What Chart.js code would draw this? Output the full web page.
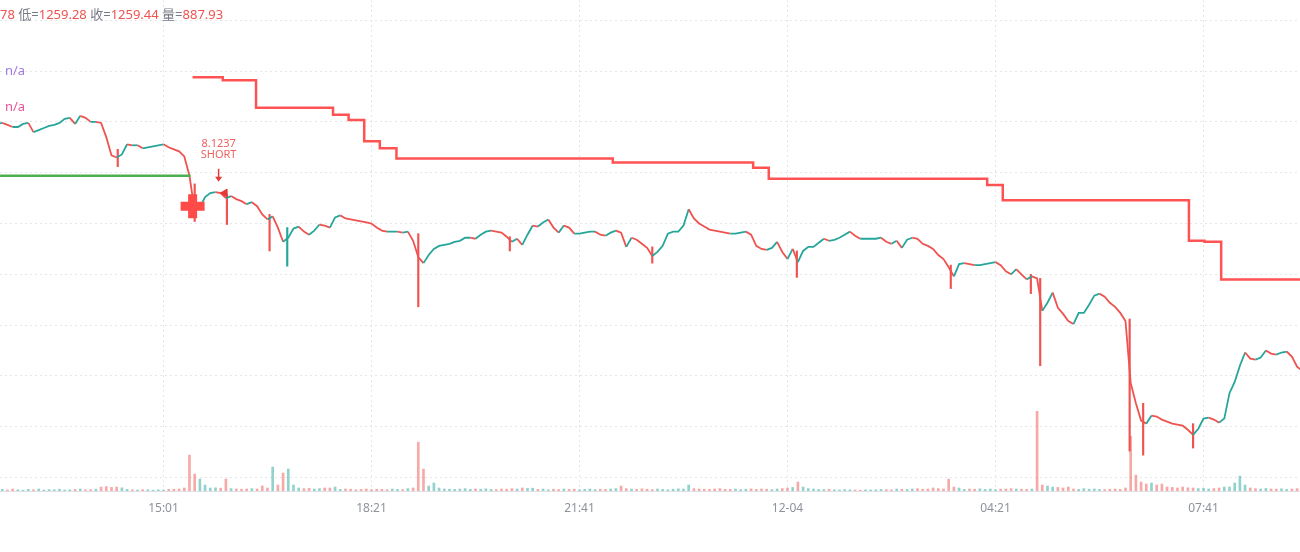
<!DOCTYPE html>
<html>
<head>
<meta charset="utf-8">
<script src="https://cdn.jsdelivr.net/npm/chart.js@4.4.0/dist/chart.umd.min.js"></script>
<style>
    body { margin: 0; background: #fff; }
    #wrap { position: relative; width: 1300px; height: 552px; overflow: hidden; }
    canvas { position: absolute; left: 0; top: 0; }
    .hdr { position: absolute; left: 0; top: 4px; font: 13px "Noto Sans", "Noto Sans CJK SC", sans-serif; white-space: nowrap; color: #ef5350; }
    .hdr .k { color: #787b86; }
    .na { position: absolute; left: 5px; font: 13px "Noto Sans", sans-serif; }
</style>
</head>
<body>
<div id="wrap">
    <canvas id="myChart" width="1300" height="552"></canvas>
    <div class="hdr">78 <span class="k">低=</span>1259.28 <span class="k">收=</span>1259.44 <span class="k">量=</span>887.93</div>
    <div class="na" style="top:61px;color:#a07ce0">n/a</div>
    <div class="na" style="top:97px;color:#e8559a">n/a</div>
</div>
<script>
// x values are minutes counted from the 15:01 tick
const tickMinutes = [0, 200, 400, 600, 800, 1000];
const tickLabels = ['15:01', '18:21', '21:41', '12-04', '04:21', '07:41'];
const priceGrid = [1250, 1255, 1260, 1265, 1270, 1275, 1280, 1285, 1290, 1295];

// 5 minute samples of the close, first one at minute -160
const barStart = -160;
const barStep = 5;
const closePrice = [
    1284.8, 1284.9, 1284.7, 1284.5, 1284.5, 1284.8, 1284.9, 1284.0, 1284.2, 1284.4, 1284.6, 1284.7,
    1284.9, 1285.3, 1285.4, 1284.8, 1285.6, 1285.4, 1285.0, 1285.0, 1284.9, 1283.5, 1281.7, 1281.5,
    1281.8, 1282.8, 1282.7, 1282.7, 1282.4, 1282.5, 1282.6, 1282.7, 1282.8, 1282.5, 1282.3, 1282.1,
    1281.6, 1279.7, 1276.2, 1276.6, 1277.6, 1278.0, 1278.1, 1278.0, 1277.5, 1277.7, 1277.4, 1277.2,
    1276.9, 1277.1, 1276.7, 1275.9, 1275.4, 1275.7, 1274.6, 1273.2, 1273.6, 1274.5, 1274.7, 1274.2,
    1273.9, 1274.3, 1274.9, 1274.8, 1274.6, 1275.6, 1275.8, 1275.5, 1275.4, 1275.3, 1275.2, 1275.1,
    1275.0, 1274.6, 1274.3, 1274.2, 1274.2, 1274.2, 1274.1, 1274.2, 1273.3, 1271.7, 1271.1, 1271.9,
    1272.5, 1272.8, 1272.9, 1273.0, 1273.2, 1273.3, 1273.6, 1273.6, 1273.5, 1273.9, 1274.2, 1274.3,
    1274.2, 1274.1, 1273.7, 1273.2, 1273.5, 1272.9, 1273.9, 1274.8, 1274.7, 1275.1, 1275.4, 1274.6,
    1274.1, 1274.8, 1274.6, 1274.0, 1274.0, 1274.1, 1274.2, 1274.2, 1273.9, 1273.8, 1274.1, 1274.3,
    1274.1, 1272.7, 1273.6, 1273.4, 1273.0, 1272.6, 1271.8, 1272.2, 1272.8, 1274.0, 1274.2, 1274.2,
    1274.8, 1276.4, 1275.5, 1275.0, 1274.7, 1274.4, 1274.3, 1274.2, 1274.1, 1274.0, 1274.0, 1274.1,
    1274.2, 1273.9, 1272.8, 1272.5, 1272.4, 1272.6, 1273.2, 1272.2, 1271.5, 1272.5, 1271.2, 1272.3,
    1272.7, 1272.7, 1273.1, 1273.5, 1273.3, 1273.4, 1273.6, 1273.9, 1274.2, 1273.8, 1273.5, 1273.5,
    1273.5, 1273.5, 1273.6, 1273.2, 1273.0, 1273.3, 1272.6, 1273.4, 1273.6, 1273.5, 1273.0, 1272.8,
    1272.5, 1271.9, 1271.5, 1270.7, 1269.8, 1271.0, 1271.1, 1271.0, 1270.9, 1270.9, 1271.0, 1271.1,
    1271.2, 1270.9, 1270.3, 1270.0, 1270.5, 1270.0, 1269.5, 1269.8, 1269.6, 1266.4, 1267.2, 1268.2,
    1266.7, 1266.1, 1265.4, 1265.1, 1266.2, 1266.2, 1267.0, 1267.9, 1268.1, 1267.8, 1267.2, 1266.8,
    1266.2, 1265.4, 1259.3, 1257.3, 1255.6, 1255.3, 1256.1, 1256.0, 1255.7, 1255.5, 1255.3, 1255.2,
    1255.1, 1254.7, 1254.2, 1254.8, 1255.8, 1255.9, 1255.7, 1255.4, 1255.8, 1258.3, 1259.4, 1261.0,
    1262.3, 1261.7, 1261.6, 1261.8, 1262.5, 1262.2, 1262.1, 1262.3, 1262.4, 1261.9, 1260.9, 1260.5
];
const volume = [
    60, 80, 50, 100, 60, 40, 80, 60, 100, 50, 70, 60, 90, 50, 60, 80, 100, 60, 70, 90,
    200, 220, 180, 200, 160,
    80, 60, 50, 70, 60, 40, 60, 50, 80, 90, 100,
    150, 1800, 850, 600, 300, 150, 160, 140,
    600, 120, 100, 90, 100, 120,
    100, 250, 150, 1200, 300, 900, 1100, 300,
    150, 120, 140, 100, 120, 150,
    150, 200,
    80, 100, 90, 60, 80, 100, 70, 90, 80, 60, 100, 80, 70, 120,
    150, 2450, 1100, 250, 400, 150,
    100, 90, 80, 100, 120, 80, 100, 90, 110, 80, 70, 100, 90, 120, 100,
    150, 130, 140,
    80, 100, 60, 90, 70, 100, 80, 90, 60, 80, 100, 70, 90, 80, 100, 120,
    250,
    120, 100, 80, 110, 90, 70, 100, 80, 60, 90, 110, 100,
    300,
    120, 100, 90, 80, 100, 120, 90, 80, 100, 70, 90, 110, 80, 100, 90, 70, 100, 120,
    150, 180, 450, 200,
    120, 100, 80, 70, 90, 60, 50, 70, 60, 50, 40, 60, 50, 60, 80, 70, 60, 100, 90, 80, 100, 120, 90, 100, 150, 120, 100,
    600,
    200, 150, 80, 100, 90, 110, 80, 100, 70, 90, 100, 120, 100, 90, 80, 100,
    4000,
    300, 250, 200, 180, 150, 200,
    100, 80, 120, 90, 100, 80, 70, 90, 100, 80, 150,
    2750, 800, 450, 350, 400, 300, 350,
    200, 180, 150, 200, 160, 150,
    120, 140, 100, 120, 150, 200, 200,
    400, 750, 300,
    150, 120, 100, 130, 100, 90, 110, 80, 100, 120, 90
];

// long wicks
const spikeT = [-44, 30, 61, 102, 119, 245, 333, 470, 609, 757, 834, 843, 929, 942, 990];
const spikeHigh = [1282.3, 1278.9, 1277.9, 1275.9, 1274.6, 1274.0, 1273.7, 1272.7, 1272.3, 1270.9, 1270.0, 1269.6, 1265.6, 1257.3, 1255.3];
const spikeLow = [1280.6, 1275.2, 1274.9, 1272.3, 1270.8, 1266.8, 1272.3, 1271.1, 1269.7, 1268.6, 1268.1, 1261.0, 1252.6, 1252.2, 1252.9];
const spikeUp = [false, false, false, false, true, false, false, false, false, false, false, false, false, false, false];

// trailing stop (red steps)
const stopT = [28, 57, 89, 163, 178, 193, 208, 224, 432, 567, 582, 792, 807, 986, 1001, 1017, 1096];
const stopPrice = [1289.4, 1289.1, 1286.4, 1285.7, 1285.2, 1283.1, 1282.4, 1281.4, 1281.0, 1280.5, 1279.4, 1278.8, 1277.3, 1273.3, 1273.2, 1269.5, 1269.5];

// green level
const levelT = [-160, 26];
const levelPrice = [1279.7, 1279.7];

// markers
const entryT = [28];
const entryPrice = [1276.7];
const flagT = [59];
const flagPrice = [1278.0];
const signalT = 53;
const signalPrice = 1279.1;
const signalText = ['8.1237', 'SHORT'];

const UP = '#26a69a';
const DOWN = '#ef5350';

const closePoints = closePrice.map((p, i) => ({ x: barStart + i * barStep, y: p }));
const volPoints = volume.map((v, i) => ({ x: barStart + i * barStep, y: v }));
const volColors = volume.map((v, i) => {
    const up = i === 0 || closePrice[i] >= closePrice[i - 1];
    return up ? 'rgba(38,166,154,0.5)' : 'rgba(239,83,80,0.5)';
});

const signalPlugin = {
    id: 'signal',
    afterDatasetsDraw(chart) {
        const { ctx, scales: { x, y } } = chart;
        const px = x.getPixelForValue(signalT);
        const py = y.getPixelForValue(signalPrice);
        ctx.save();
        ctx.strokeStyle = '#e53935';
        ctx.fillStyle = '#e53935';
        ctx.lineWidth = 1.5;
        ctx.beginPath();
        ctx.moveTo(px, py - 13);
        ctx.lineTo(px, py - 3);
        ctx.stroke();
        ctx.beginPath();
        ctx.moveTo(px - 3.5, py - 5);
        ctx.lineTo(px + 3.5, py - 5);
        ctx.lineTo(px, py);
        ctx.closePath();
        ctx.fill();
        ctx.fillStyle = '#f06262';
        ctx.font = '11px "Noto Sans", sans-serif';
        ctx.textAlign = 'center';
        ctx.textBaseline = 'middle';
        ctx.fillText(signalText[1], px, py - 27);
        ctx.fillText(signalText[0], px, py - 38);
        ctx.restore();
    }
};

const ctx = document.getElementById('myChart').getContext('2d');
new Chart(ctx, {
    type: 'line',
    data: {
        datasets: [
            {
                type: 'scatter',
                data: entryT.map((t, i) => ({ x: t, y: entryPrice[i] })),
                pointStyle: 'cross',
                pointRadius: 12,
                pointBorderWidth: 9,
                pointBorderColor: '#ff4a4a',
                order: 1
            },
            {
                type: 'scatter',
                data: flagT.map((t, i) => ({ x: t, y: flagPrice[i] })),
                pointStyle: 'triangle',
                rotation: 270,
                pointRadius: 4.5,
                pointBackgroundColor: '#e53935',
                pointBorderColor: '#e53935',
                order: 2
            },
            {
                data: stopT.map((t, i) => ({ x: t, y: stopPrice[i] })),
                stepped: 'before',
                borderColor: '#ff5252',
                borderWidth: 2.5,
                pointRadius: 0,
                order: 3
            },
            {
                data: levelT.map((t, i) => ({ x: t, y: levelPrice[i] })),
                borderColor: '#4caf50',
                borderWidth: 2.5,
                pointRadius: 0,
                order: 4
            },
            {
                data: closePoints,
                borderWidth: 1.8,
                pointRadius: 0,
                tension: 0,
                segment: {
                    borderColor: c => c.p1.parsed.y >= c.p0.parsed.y ? UP : DOWN
                },
                borderColor: UP,
                order: 5
            },
            {
                type: 'bar',
                data: spikeT.map((t, i) => ({ x: t, y: [spikeLow[i], spikeHigh[i]] })),
                backgroundColor: spikeUp.map(u => u ? UP : DOWN),
                barThickness: 1.5,
                grouped: false,
                order: 6
            },
            {
                type: 'bar',
                yAxisID: 'yv',
                data: volPoints,
                backgroundColor: volColors,
                barThickness: 2,
                grouped: false,
                order: 10
            }
        ]
    },
    options: {
        responsive: false,
        animation: false,
        devicePixelRatio: 1,
        layout: { autoPadding: false, padding: { left: 0, right: 0, top: 0, bottom: 26.6 } },
        plugins: { legend: { display: false }, tooltip: { enabled: false } },
        scales: {
            x: {
                type: 'linear',
                min: -157.2,
                max: 1092.8,
                offset: false,
                afterBuildTicks: axis => { axis.ticks = tickMinutes.map(v => ({ value: v })); },
                ticks: {
                    autoSkip: false,
                    maxRotation: 0,
                    padding: 10,
                    color: '#8e929b',
                    font: { family: '"Noto Sans", sans-serif', size: 12 },
                    callback: value => tickLabels[tickMinutes.indexOf(value)]
                },
                grid: { color: '#e4e6ea', drawTicks: false, offset: false },
                border: { display: true, color: '#dfe1e6', dash: [2, 3] }
            },
            y: {
                type: 'linear',
                position: 'left',
                min: 1248.67,
                max: 1297.0,
                afterBuildTicks: axis => { axis.ticks = priceGrid.map(v => ({ value: v })); },
                ticks: { display: false },
                grid: { color: '#e4e6ea', drawTicks: false },
                border: { display: false, dash: [2, 3] }
            },
            yv: {
                type: 'linear',
                position: 'right',
                display: false,
                min: 0,
                max: 24650
            }
        }
    },
    plugins: [signalPlugin]
});
</script>
</body>
</html>
